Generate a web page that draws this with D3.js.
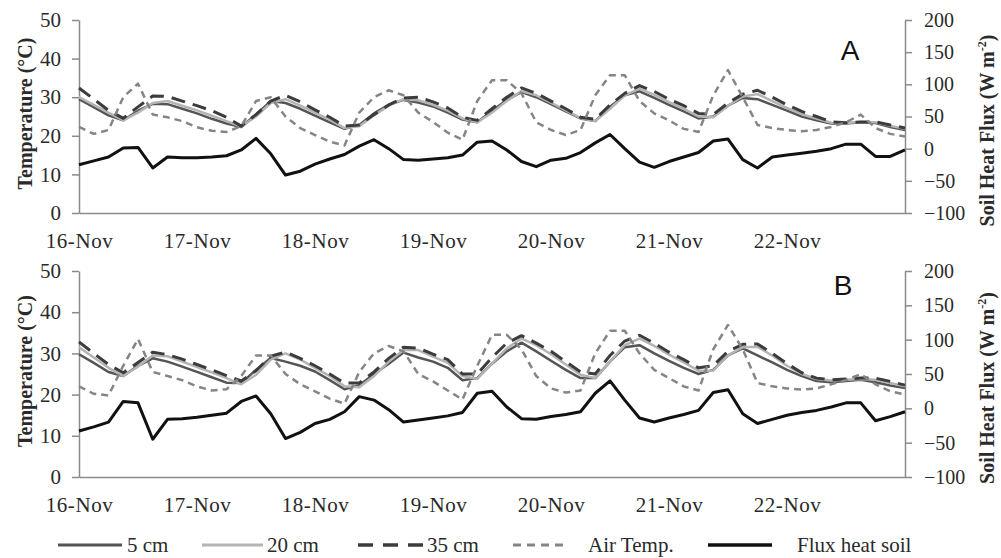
<!DOCTYPE html>
<html>
<head>
<meta charset="utf-8">
<script src="https://cdn.jsdelivr.net/npm/d3@7"></script>
<style>
  body { margin: 0; background: #fff; }
  svg { display: block; }
  svg text { font-family: "Liberation Serif", "Times New Roman", "DejaVu Serif", serif; }
  svg text.letter { font-family: "Liberation Sans", Arial, sans-serif; }
</style>
</head>
<body>
<svg id="chart" width="1001" height="558"></svg>
<script>
// hours since 16-Nov 00:00, every 3 h
const hours = [0, 3, 6, 9, 12, 15, 18, 21, 24, 27, 30, 33, 36, 39, 42, 45, 48, 51, 54, 57,
  60, 63, 66, 69, 72, 75, 78, 81, 84, 87, 90, 93, 96, 99, 102, 105, 108, 111, 114, 117,
  120, 123, 126, 129, 132, 135, 138, 141, 144, 147, 150, 153, 156, 159, 162, 165, 168]

const dayTicks = [0, 24, 48, 72, 96, 120, 144]
const dayLabels = ["16-Nov", "17-Nov", "18-Nov", "19-Nov", "20-Nov", "21-Nov", "22-Nov"]
const tempTicks = [0, 10, 20, 30, 40, 50]
const fluxTicks = [-100, -50, 0, 50, 100, 150, 200]
const seriesNames = ["5 cm", "20 cm", "35 cm", "Air Temp.", "Flux heat soil"]

// Panel A
const a5 = [29.5, 27.4, 25.3, 24.0, 26.5, 28.3, 28.2, 27.0, 25.8, 24.4, 23.2, 22.3, 25.5, 29.0, 28.5, 27.0, 25.2, 23.5, 21.8, 22.8,
  25.8, 28.0, 29.3, 28.6, 27.6, 26.0, 24.2, 23.5, 26.5, 29.3, 31.3, 30.0, 28.2, 26.3, 24.5, 23.8, 27.5, 30.5, 31.5, 29.8,
  28.0, 26.3, 24.5, 25.0, 27.8, 29.8, 29.5, 28.0, 26.5, 25.0, 24.0, 23.2, 23.2, 23.5, 23.3, 22.3, 21.5]
const a20 = [30.0, 28.0, 26.0, 24.0, 26.0, 28.5, 29.0, 27.8, 26.6, 25.2, 23.8, 22.4, 25.0, 28.5, 29.5, 27.8, 26.0, 24.2, 22.0, 22.5,
  25.3, 27.8, 29.5, 29.2, 28.0, 26.5, 24.5, 23.5, 26.0, 29.0, 31.6, 30.5, 28.6, 26.6, 24.6, 23.8, 27.0, 30.5, 32.2, 30.6,
  28.7, 27.0, 25.0, 24.8, 27.8, 30.2, 30.8, 29.0, 27.2, 25.6, 24.5, 23.4, 23.3, 23.6, 23.5, 22.6, 21.8]
const a35 = [32.4, 29.5, 26.6, 24.5, 27.5, 30.3, 30.2, 29.0, 27.8, 26.5, 24.8, 22.5, 25.5, 29.0, 30.5, 28.8, 26.7, 24.8, 22.5, 22.8,
  25.5, 28.0, 29.8, 30.0, 28.8, 27.2, 24.8, 24.0, 27.0, 30.0, 32.4, 31.0, 29.0, 27.0, 24.8, 24.3, 28.0, 31.0, 33.0, 31.5,
  29.5, 27.8, 25.8, 25.5, 28.5, 30.8, 31.8, 30.0, 28.0, 26.3, 25.0, 23.6, 23.4, 23.6, 23.6, 22.8, 22.0]
const aAir = [22.3, 20.5, 21.5, 30.0, 33.5, 25.5, 24.8, 23.8, 22.2, 21.3, 21.0, 22.5, 29.0, 30.0, 25.0, 22.0, 20.2, 18.5, 17.5, 26.0,
  30.0, 31.8, 30.5, 26.0, 23.6, 20.8, 19.0, 29.0, 34.4, 34.4, 31.0, 23.5, 21.5, 20.2, 21.5, 30.5, 35.7, 35.7, 29.0, 25.8,
  24.0, 21.8, 21.0, 30.5, 37.0, 30.0, 22.8, 22.0, 21.5, 21.2, 21.5, 22.3, 23.5, 25.5, 22.0, 20.5, 19.8]
const aFlux = [-25, -19, -13, 1, 2, -30, -13, -14, -14, -13, -11, -2, 16, -8, -41, -35, -24, -16, -9, 4,
  14, 0, -17, -18, -16, -14, -10, 10, 12, -2, -20, -28, -18, -15, -6, 9, 22, 0, -21, -29,
  -20, -13, -6, 12, 15, -17, -30, -13, -10, -7, -4, 0, 7, 7, -12, -12, -2]

// Panel B
const b5 = [29.8, 27.7, 25.5, 24.5, 27.0, 28.8, 28.0, 26.8, 25.5, 24.2, 22.9, 22.8, 26.0, 28.9, 28.0, 27.0, 25.6, 23.5, 21.3, 22.3,
  25.0, 27.5, 30.2, 29.0, 28.0, 26.5, 23.5, 24.0, 27.5, 30.5, 32.6, 30.5, 28.2, 26.0, 24.0, 24.0, 28.0, 31.5, 32.0, 30.0,
  28.2, 26.5, 25.0, 26.0, 29.5, 31.2, 29.5, 27.8, 26.0, 24.5, 23.3, 23.0, 23.3, 23.6, 23.0, 22.2, 21.6]
const b20 = [31.5, 29.0, 26.5, 24.5, 26.8, 29.5, 29.3, 28.0, 26.7, 25.4, 24.0, 22.5, 24.8, 28.5, 30.0, 28.5, 26.5, 24.5, 22.0, 21.8,
  24.5, 28.0, 30.8, 30.8, 29.2, 27.7, 24.5, 23.8, 27.5, 31.2, 33.6, 32.0, 29.8, 27.3, 24.8, 24.0, 28.0, 32.0, 33.6, 31.8,
  29.7, 27.8, 25.8, 25.8, 29.5, 31.5, 31.6, 29.5, 27.0, 25.0, 23.8, 23.4, 23.6, 23.8, 23.6, 22.8, 22.0]
const b35 = [32.8, 30.0, 27.3, 25.3, 27.8, 30.3, 29.7, 28.6, 27.3, 26.0, 24.6, 23.3, 25.8, 29.3, 30.3, 28.8, 27.0, 25.0, 22.8, 22.8,
  25.5, 28.8, 31.5, 31.3, 29.8, 28.5, 25.0, 25.0, 29.0, 32.5, 34.3, 32.5, 30.5, 28.0, 25.5, 25.0, 29.5, 33.0, 34.4, 32.5,
  30.3, 28.5, 26.5, 27.0, 30.5, 32.2, 32.3, 30.0, 27.5, 25.3, 24.0, 23.6, 23.8, 24.0, 24.0, 23.2, 22.3]
const bAir = [22.0, 20.2, 19.8, 27.0, 33.5, 25.5, 24.5, 23.5, 22.0, 21.0, 21.3, 24.5, 29.5, 29.5, 25.0, 22.5, 20.8, 19.0, 17.8, 25.5,
  30.0, 31.8, 30.5, 25.0, 23.2, 21.0, 18.8, 27.0, 34.5, 34.5, 31.0, 24.5, 21.5, 20.5, 21.0, 30.0, 35.5, 35.5, 30.0, 26.0,
  24.0, 22.0, 21.0, 31.0, 36.9, 31.0, 22.8, 22.0, 21.5, 21.2, 21.5, 22.5, 23.5, 25.0, 22.5, 20.8, 20.0]
const bFlux = [-33, -27, -20, 10, 8, -45, -16, -15, -13, -10, -7, 10, 18, -8, -44, -35, -22, -16, -5, 17,
  12, -2, -20, -17, -14, -11, -6, 22, 25, 2, -15, -16, -12, -9, -5, 22, 40, 12, -14, -20,
  -14, -9, -3, 23, 27, -8, -22, -16, -10, -6, -3, 2, 8, 8, -18, -12, -5]

const panels = [
  { letter: "A", top: 20, bottom: 213, lx: 850, ly: 60, series: [a5, a20, a35, aAir, aFlux] },
  { letter: "B", top: 271, bottom: 477, lx: 843, ly: 295, series: [b5, b20, b35, bAir, bFlux] }
]

const lineStyles = [
  { stroke: "#555555", width: 2.5, dash: null },
  { stroke: "#b4b4b4", width: 2.5, dash: null },
  { stroke: "#3c3c3c", width: 3, dash: "14,8" },
  { stroke: "#858585", width: 2.5, dash: "7,5" },
  { stroke: "#111111", width: 3, dash: null }
]

const axisColor = "#8a8a8a"
const textColor = "#2a2a2a"

const svg = d3.select("#chart")
const x = d3.scaleLinear().domain([0, 168]).range([79, 905])

function styleAxis(g, size) {
  g.attr("font-family", null).attr("font-size", size)
  g.select(".domain").attr("stroke", axisColor).attr("stroke-width", 1.5)
  g.selectAll(".tick line").attr("stroke", axisColor).attr("stroke-width", 1.5)
  g.selectAll(".tick text").attr("fill", textColor)
}

panels.forEach(p => {
  const yT = d3.scaleLinear().domain([0, 50]).range([p.bottom, p.top])
  const yF = d3.scaleLinear().domain([-100, 200]).range([p.bottom, p.top])
  const g = svg.append("g")

  // left axis
  g.append("g")
    .attr("transform", `translate(${x(0)},0)`)
    .call(d3.axisLeft(yT).tickValues(tempTicks).tickSize(7).tickSizeOuter(0).tickPadding(11))
    .call(a => styleAxis(a, 21))

  // right axis
  g.append("g")
    .attr("transform", `translate(${x(168)},0)`)
    .call(d3.axisRight(yF).tickValues(fluxTicks).tickSize(7).tickSizeOuter(0).tickPadding(12))
    .call(a => styleAxis(a, 20))

  // bottom axis
  g.append("g")
    .attr("transform", `translate(0,${p.bottom})`)
    .call(d3.axisBottom(x).tickValues(dayTicks).tickSize(0).tickSizeOuter(0).tickPadding(20)
      .tickFormat((d, i) => dayLabels[i]))
    .call(a => styleAxis(a, 21))
    .call(a => a.selectAll(".tick text").attr("letter-spacing", 0.6))

  // series
  p.series.forEach((vals, i) => {
    const y = i === 4 ? yF : yT
    const st = lineStyles[i]
    const line = d3.line().x((d, j) => x(hours[j])).y(d => y(d))
    g.append("path")
      .datum(vals)
      .attr("d", line)
      .attr("fill", "none")
      .attr("stroke", st.stroke)
      .attr("stroke-width", st.width)
      .attr("stroke-dasharray", st.dash)
      .attr("stroke-linejoin", "round")
  })

  // panel letter
  g.append("text")
    .attr("class", "letter")
    .attr("x", p.lx).attr("y", p.ly)
    .attr("text-anchor", "middle")
    .attr("font-size", 28)
    .attr("fill", "#111")
    .text(p.letter)

  const midY = (p.top + p.bottom) / 2

  // left title
  g.append("text")
    .attr("transform", `translate(32,${midY - 3}) rotate(-90)`)
    .attr("text-anchor", "middle")
    .attr("font-weight", "bold")
    .attr("font-size", 20)
    .attr("fill", textColor)
    .text("Temperature (°C)")

  // right title
  const rt = g.append("text")
    .attr("transform", `translate(994,${midY + 14}) rotate(-90)`)
    .attr("text-anchor", "middle")
    .attr("font-weight", "bold")
    .attr("font-size", 20)
    .attr("fill", textColor)
  rt.append("tspan").text("Soil Heat Flux (W m")
  rt.append("tspan").attr("font-size", 12).attr("dy", -8).text("-2")
  rt.append("tspan").attr("dy", 8).text(")")
})

// legend
const legendX = [58, 202, 358, 513, 708]
const legendW = [64, 61, 65, 50, 64]
const legendTextX = [127, 267, 427, 588, 797]
const legendY = 545
const lg = svg.append("g")
seriesNames.forEach((name, i) => {
  const st = lineStyles[i]
  lg.append("line")
    .attr("x1", legendX[i]).attr("x2", legendX[i] + legendW[i])
    .attr("y1", legendY).attr("y2", legendY)
    .attr("stroke", st.stroke)
    .attr("stroke-width", i === 4 ? 3.5 : st.width + 0.5)
    .attr("stroke-dasharray", i === 2 ? "15,10" : i === 3 ? "8,6" : null)
  lg.append("text")
    .attr("x", legendTextX[i]).attr("y", legendY + 7)
    .attr("font-size", 21)
    .attr("fill", textColor)
    .text(name)
})
</script>
</body>
</html>
